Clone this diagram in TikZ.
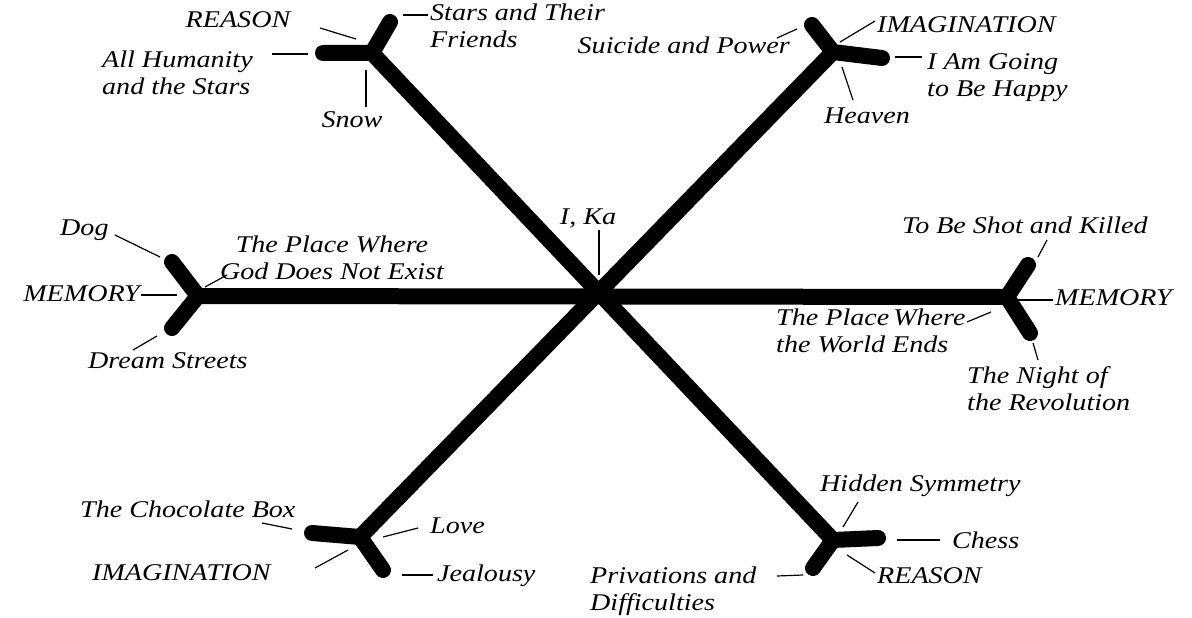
\documentclass[tikz,border=0pt]{standalone}
\usepackage{fontspec}
\setmainfont{Liberation Serif}[FakeStretch=1.17]

\begin{document}
\begin{tikzpicture}[
    x=1pt, y=-1pt,
    every node/.style={font=\itshape\fontsize{24}{27}\selectfont, inner sep=0pt},
    bar/.style={line width=16pt, line cap=round, line join=round},
    leader/.style={line width=1.2pt},
    tag/.style={align=left},
]
\useasboundingbox (0,0) rectangle (1192,618);

% --- Centre and fork points ---
\coordinate (ka) at (598,296);
\coordinate (ulJ) at (372,53);  \coordinate (ulA) at (390,22);  \coordinate (ulB) at (323,53);
\coordinate (urJ) at (833,52);  \coordinate (urA) at (812,25);  \coordinate (urB) at (882,58);
\coordinate (lJ) at (198,296);  \coordinate (lA) at (172,262);  \coordinate (lB) at (172,328);
\coordinate (rJ) at (1007,297); \coordinate (rA) at (1028,265); \coordinate (rB) at (1030,333);
\coordinate (llJ) at (360,537); \coordinate (llA) at (312,533); \coordinate (llB) at (383,570);
\coordinate (lrJ) at (833,540); \coordinate (lrA) at (878,538); \coordinate (lrB) at (813,568);

% --- Arms ---
\draw[bar] (ulJ) -- (lrJ);
\draw[bar] (urJ) -- (llJ);
\draw[bar] (lJ) -- (rJ);

% --- Forks ---
\draw[bar] (ulA) -- (ulJ) -- (ulB);
\draw[bar] (urA) -- (urJ) -- (urB);
\draw[bar] (lA) -- (lJ) -- (lB);
\draw[bar] (rA) -- (rJ) -- (rB);
\draw[bar] (llA) -- (llJ) -- (llB);
\draw[bar] (lrA) -- (lrJ) -- (lrB);

% --- Centre label ---
\node[anchor=base] (kaLbl) at (588,224) {I, Ka};
\coordinate (ka1) at (599,230); \coordinate (ka2) at (599,275);
\draw[leader] (ka1) -- (ka2);

% --- Upper left: REASON ---
\node[anchor=base] (ulReason) at (238,28) {REASON};
\node[tag, anchor=north west] (ulHuman) at (102,51) {All Humanity\\and the Stars};
\node[tag, anchor=north west] (ulStars) at (430,4) {Stars and Their\\Friends};
\node[anchor=base] (ulSnow) at (352,127) {Snow};
\coordinate (ul1) at (320,28);  \coordinate (ul2) at (356,39);
\coordinate (ul3) at (272,54);  \coordinate (ul4) at (308,54);
\coordinate (ul5) at (403,15);  \coordinate (ul6) at (428,15);
\coordinate (ul7) at (366,70);  \coordinate (ul8) at (366,107);
\draw[leader] (ul1) -- (ul2);
\draw[leader] (ul3) -- (ul4);
\draw[leader] (ul5) -- (ul6);
\draw[leader] (ul7) -- (ul8);

% --- Upper right: IMAGINATION ---
\node[anchor=base east] (urSuicide) at (790,54) {Suicide and Power};
\node[anchor=base west] (urImag) at (877,33) {IMAGINATION};
\node[tag, anchor=north west] (urHappy) at (927,53) {I Am Going\\to Be Happy};
\node[anchor=base] (urHeaven) at (867,123) {Heaven};
\coordinate (ur1) at (777,38);  \coordinate (ur2) at (797,29);
\coordinate (ur3) at (840,42);  \coordinate (ur4) at (875,21);
\coordinate (ur5) at (895,57);  \coordinate (ur6) at (922,57);
\coordinate (ur7) at (842,67);  \coordinate (ur8) at (853,100);
\draw[leader] (ur1) -- (ur2);
\draw[leader] (ur3) -- (ur4);
\draw[leader] (ur5) -- (ur6);
\draw[leader] (ur7) -- (ur8);

% --- Left: MEMORY ---
\node[anchor=base west] (lDog) at (60,235) {Dog};
\node[anchor=base east] (lMemory) at (140,301) {MEMORY};
\node[anchor=base west] (lDream) at (88,368) {Dream Streets};
\node[align=center, anchor=north] (lGod) at (332,236) {The Place Where\\God Does Not Exist};
\coordinate (l1) at (115,235);  \coordinate (l2) at (160,257);
\coordinate (l3) at (141,295);  \coordinate (l4) at (177,295);
\coordinate (l5) at (133,350);  \coordinate (l6) at (157,336);
\coordinate (l7) at (205,287);  \coordinate (l8) at (227,275);
\draw[leader] (l1) -- (l2);
\draw[leader] (l3) -- (l4);
\draw[leader] (l5) -- (l6);
\draw[leader] (l7) -- (l8);

% --- Right: MEMORY ---
\node[anchor=base west] (rShot) at (902,233) {To Be Shot and Killed};
\node[anchor=base west] (rMemory) at (1055,305) {MEMORY};
\node[tag, anchor=north west] (rWorld) at (776,309) {The Place\,Where\\the World Ends};
\node[tag, anchor=north west] (rNight) at (967,366) {The Night of\\the Revolution};
\coordinate (r1) at (1047,240); \coordinate (r2) at (1038,257);
\coordinate (r3) at (1018,300); \coordinate (r4) at (1053,300);
\coordinate (r5) at (967,322);  \coordinate (r6) at (991,312);
\coordinate (r7) at (1033,343); \coordinate (r8) at (1038,360);
\draw[leader] (r1) -- (r2);
\draw[leader] (r3) -- (r4);
\draw[leader] (r5) -- (r6);
\draw[leader] (r7) -- (r8);

% --- Lower left: IMAGINATION ---
\node[anchor=base west] (llBox) at (80,517) {The Chocolate Box};
\node[anchor=base west] (llLove) at (430,533) {Love};
\node[anchor=base west] (llImag) at (92,580) {IMAGINATION};
\node[anchor=base west] (llJeal) at (437,581) {Jealousy};
\coordinate (ll1) at (262,523); \coordinate (ll2) at (292,529);
\coordinate (ll3) at (383,537); \coordinate (ll4) at (418,528);
\coordinate (ll5) at (315,568); \coordinate (ll6) at (348,550);
\coordinate (ll7) at (402,575); \coordinate (ll8) at (433,575);
\draw[leader] (ll1) -- (ll2);
\draw[leader] (ll3) -- (ll4);
\draw[leader] (ll5) -- (ll6);
\draw[leader] (ll7) -- (ll8);

% --- Lower right: REASON ---
\node[anchor=base west] (lrHidden) at (820,491) {Hidden Symmetry};
\node[anchor=base west] (lrChess) at (952,548) {Chess};
\node[anchor=base west] (lrReason) at (877,583) {REASON};
\node[tag, anchor=north west] (lrPriv) at (590,567) {Privations and\\Difficulties};
\coordinate (lr1) at (858,502); \coordinate (lr2) at (843,527);
\coordinate (lr3) at (897,540); \coordinate (lr4) at (940,540);
\coordinate (lr5) at (847,555); \coordinate (lr6) at (875,573);
\coordinate (lr7) at (777,576); \coordinate (lr8) at (803,575);
\draw[leader] (lr1) -- (lr2);
\draw[leader] (lr3) -- (lr4);
\draw[leader] (lr5) -- (lr6);
\draw[leader] (lr7) -- (lr8);

\end{tikzpicture}
\end{document}
